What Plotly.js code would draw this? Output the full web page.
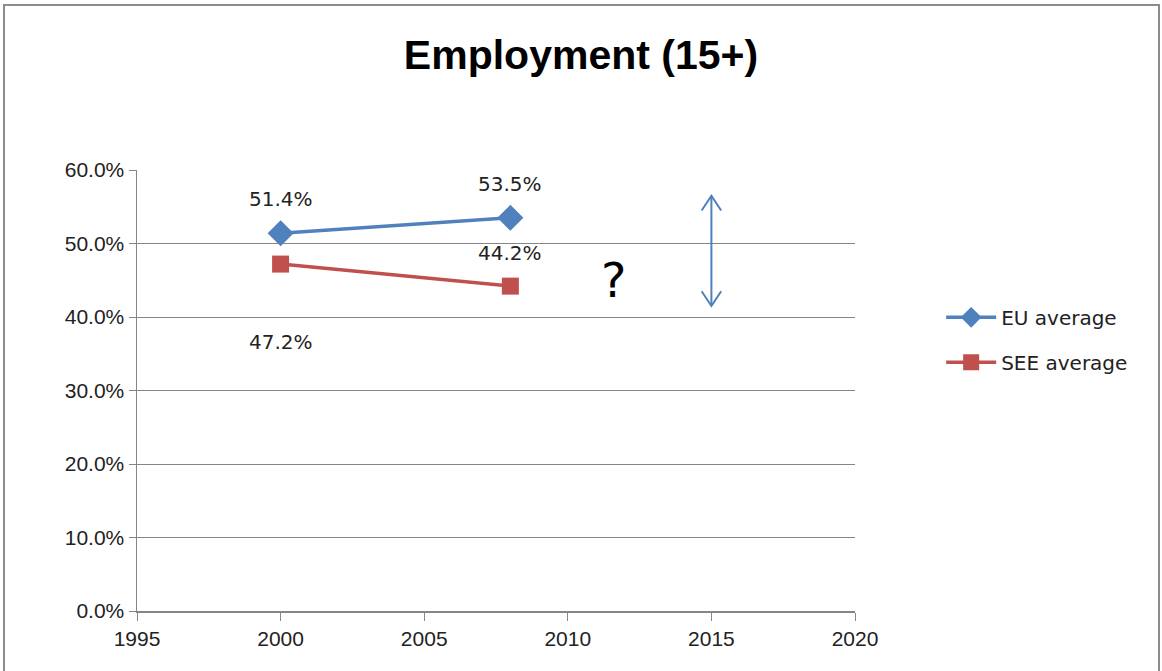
<!DOCTYPE html>
<html>
<head>
<meta charset="utf-8">
<script src="https://cdn.plot.ly/plotly-3.0.1.min.js"></script>
<style>
html,body{margin:0;padding:0;background:#fff;}
#wrap{position:relative;width:1162px;height:671px;}
#chart{width:1162px;height:671px;}
#frame{position:absolute;left:3px;top:4px;width:1153px;height:680px;border:2px solid #8c8c8c;pointer-events:none;}
</style>
</head>
<body>
<div id="wrap"><div id="chart"></div><div id="frame"></div></div>
<script>
const years = [2000, 2008];
const euAverage = [51.4, 53.5];
const seeAverage = [47.2, 44.2];
const euLabels = ['51.4%', '53.5%'];
const seeLabels = ['47.2%', '44.2%'];
const seeLabelShift = [-78, 33];
const arrowYear = 2015;
const arrowRange = [41.5, 56.5];
const questionMark = {x: 2011.6, y: 45.0, text: '?'};

const traces = [
  {x: years, y: euAverage, name: 'EU average', legendgroup: 'eu', type: 'scatter', mode: 'lines+markers',
   line: {color: '#4F81BD', width: 3.5}, marker: {symbol: 'diamond', size: 20, color: '#4F81BD'}},
  {x: years, y: seeAverage, name: 'SEE average', legendgroup: 'see', type: 'scatter', mode: 'lines+markers',
   line: {color: '#C0504D', width: 3.5}, marker: {symbol: 'square', size: 17, color: '#C0504D'}}
];

const labelFont = {family: 'DejaVu Sans, sans-serif', size: 20, color: '#222'};
const annotations = [];
years.forEach((yr, i) => {
  annotations.push({x: yr, y: euAverage[i], xref: 'x', yref: 'y', text: euLabels[i], showarrow: false, yshift: 34, font: labelFont});
  annotations.push({x: yr, y: seeAverage[i], xref: 'x', yref: 'y', text: seeLabels[i], showarrow: false, yshift: seeLabelShift[i], font: labelFont});
});
annotations.push({x: questionMark.x, y: questionMark.y, xref: 'x', yref: 'y', text: questionMark.text, showarrow: false,
  font: {family: 'DejaVu Sans, sans-serif', size: 48, color: '#000'}});
annotations.push({x: arrowYear, y: arrowRange[1], ax: arrowYear, ay: arrowRange[0], xref: 'x', yref: 'y', axref: 'x', ayref: 'y',
  text: '', showarrow: true, arrowside: 'end+start', arrowhead: 0, arrowwidth: 2, arrowcolor: '#4F81BD'});

// open chevron heads for the double-headed arrow
const headDx = 0.34, headDy = 2.0;
const shapes = [
  {type: 'path', xref: 'x', yref: 'y', line: {color: '#4F81BD', width: 2},
   path: `M ${arrowYear - headDx} ${arrowRange[1] - headDy} L ${arrowYear} ${arrowRange[1]} L ${arrowYear + headDx} ${arrowRange[1] - headDy}`},
  {type: 'path', xref: 'x', yref: 'y', line: {color: '#4F81BD', width: 2},
   path: `M ${arrowYear - headDx} ${arrowRange[0] + headDy} L ${arrowYear} ${arrowRange[0]} L ${arrowYear + headDx} ${arrowRange[0] + headDy}`}
];

const tickFont = {family: 'Liberation Sans Narrow, Arial Narrow, sans-serif', size: 21, color: '#222'};
const layout = {
  width: 1162, height: 671,
  margin: {l: 137, r: 307, t: 170, b: 60},
  paper_bgcolor: '#fff', plot_bgcolor: '#fff',
  title: {text: '<b>Employment (15+)</b>', x: 0.5, xanchor: 'center', y: 0.918, yanchor: 'middle',
    font: {family: 'Liberation Sans Narrow, Arial Narrow, sans-serif', size: 41, color: '#000'}},
  xaxis: {range: [1995, 2020], dtick: 5, tick0: 1995, showgrid: false, zeroline: false,
    showline: true, linecolor: '#868686', linewidth: 1.5, ticks: 'outside', ticklen: 8, tickcolor: '#868686',
    tickfont: tickFont},
  yaxis: {range: [0, 60], dtick: 10, tickformat: '.1f', ticksuffix: '%', showgrid: true, gridcolor: '#868686', gridwidth: 1,
    zeroline: false, showline: true, linecolor: '#868686', linewidth: 1.5, ticks: 'outside', ticklen: 7, tickcolor: '#868686',
    tickfont: tickFont},
  legend: {x: 1.12, y: 0.615, xanchor: 'left', yanchor: 'middle', tracegroupgap: 16,
    font: {family: 'DejaVu Sans, sans-serif', size: 20, color: '#222'}, itemwidth: 50},
  annotations: annotations,
  shapes: shapes,
  showlegend: true
};
Plotly.newPlot('chart', traces, layout, {displayModeBar: false, staticPlot: true});
</script>
</body>
</html>
